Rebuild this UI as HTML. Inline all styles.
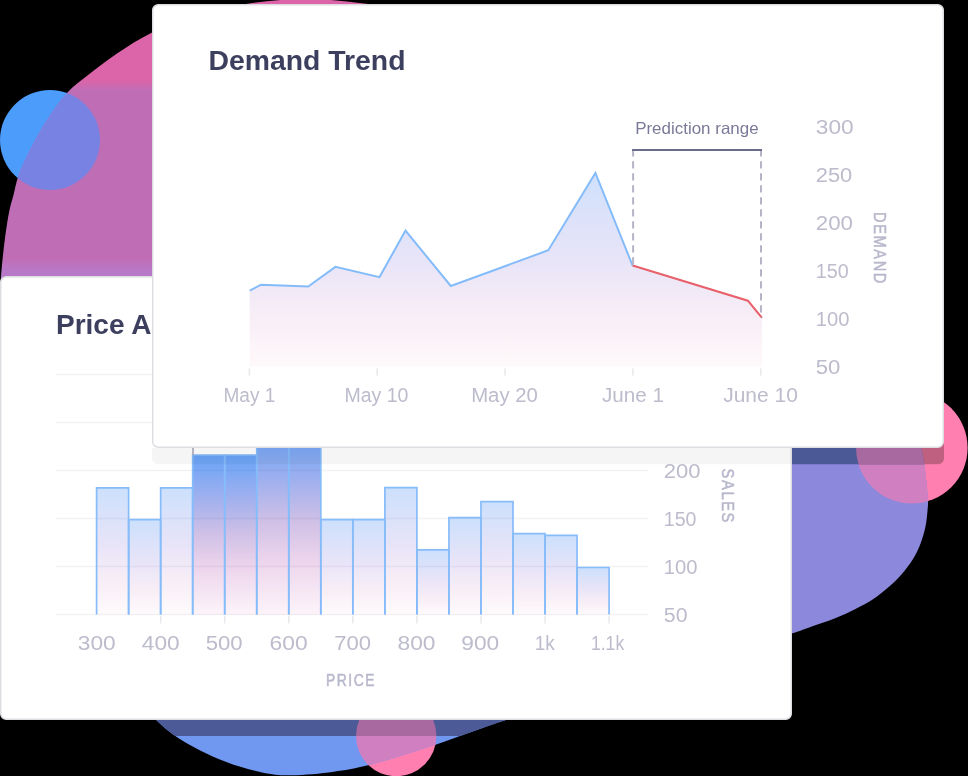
<!DOCTYPE html>
<html><head><meta charset="utf-8"><title>Demand Trend</title>
<style>
html,body{margin:0;padding:0;background:#000;width:968px;height:776px;overflow:hidden}
svg{display:block;will-change:transform}
text{font-family:"Liberation Sans", sans-serif}
</style></head><body>
<svg width="968" height="776" viewBox="0 0 968 776">
<defs>
 <linearGradient id="blobg" gradientUnits="userSpaceOnUse" x1="0" y1="0" x2="0" y2="776">
  <stop offset="0" stop-color="#dc64a8"/><stop offset="0.103" stop-color="#dc64a8"/>
  <stop offset="0.117" stop-color="#bf6eb6"/><stop offset="0.334" stop-color="#bf6eb6"/>
  <stop offset="0.349" stop-color="#b878c8"/><stop offset="0.50" stop-color="#a07ed0"/>
  <stop offset="0.58" stop-color="#8c88dc"/><stop offset="0.82" stop-color="#8c88dc"/>
  <stop offset="0.90" stop-color="#7098f0"/><stop offset="1" stop-color="#7098f0"/>
 </linearGradient>
 <clipPath id="blobclip"><path d="M-4.00,330.00 C-3.20,313.98 -1.01,301.36 0.00,290.00 C0.75,281.58 0.96,275.89 1.70,268.00 C2.56,258.77 3.67,247.81 5.00,238.00 C6.29,228.49 7.83,217.85 9.50,210.00 C10.74,204.19 12.11,200.30 13.50,195.00 C15.06,189.04 15.98,182.89 18.40,176.00 C21.49,167.23 26.72,156.35 31.50,147.00 C36.20,137.82 41.07,129.17 46.80,120.40 C52.83,111.16 59.53,100.97 67.00,93.00 C74.02,85.51 81.92,80.00 90.00,73.60 C98.54,66.83 107.27,60.02 117.00,53.50 C127.66,46.36 138.80,38.96 151.60,32.70 C166.11,25.60 183.62,18.89 200.00,14.00 C216.10,9.20 231.96,5.99 249.00,3.50 C267.20,0.84 286.92,-0.99 306.00,-1.00 C325.25,-1.01 342.83,0.90 364.00,3.50 C389.92,6.68 417.59,10.75 450.00,18.00 C493.31,27.69 550.42,39.46 600.00,60.00 C653.83,82.30 714.44,112.36 760.00,150.00 C803.88,186.25 844.16,236.25 870.00,280.00 C891.49,316.38 903.55,358.71 912.00,390.00 C917.99,412.21 919.34,435.03 921.60,448.50 C922.79,455.62 923.56,458.88 924.40,464.80 C925.40,471.84 926.34,481.53 927.00,488.00 C927.47,492.65 928.03,496.10 928.10,500.00 C928.17,503.69 927.86,506.84 927.50,510.80 C927.05,515.68 926.58,521.58 925.40,527.10 C924.14,533.00 922.22,539.51 920.00,545.10 C917.93,550.29 915.61,554.90 912.70,559.60 C909.63,564.55 905.81,569.49 901.90,574.00 C898.01,578.49 893.91,582.53 889.30,586.60 C884.34,590.98 878.73,595.53 873.00,599.30 C867.29,603.06 861.21,606.09 855.00,609.20 C848.59,612.40 842.07,615.41 835.10,618.20 C827.68,621.17 819.18,623.74 811.70,626.40 C804.79,628.86 801.50,630.33 791.80,633.60 C766.09,642.27 697.52,663.63 650.00,678.00 C602.26,692.44 545.38,707.37 506.00,720.00 C478.21,728.91 458.91,737.03 435.50,744.70 C412.58,752.21 385.87,760.98 367.00,765.60 C354.02,768.78 345.48,770.22 333.70,771.80 C320.58,773.57 304.14,775.28 291.80,775.30 C282.05,775.32 275.49,775.07 265.60,773.20 C252.07,770.65 233.57,765.21 218.50,759.00 C203.47,752.80 186.59,743.61 175.30,736.00 C167.14,730.50 163.62,727.10 155.70,719.60 C141.55,706.21 117.73,683.52 100.00,660.00 C78.80,631.88 56.74,597.23 40.00,560.00 C21.23,518.24 2.44,461.98 -4.00,420.00 C-9.04,387.13 -5.20,353.98 -4.00,330.00 Z"/></clipPath>
 <clipPath id="sh1"><rect x="152" y="20" width="792" height="444.3" rx="6"/></clipPath>
 <clipPath id="sh2"><rect x="0" y="292" width="792" height="444" rx="6"/></clipPath>
 <linearGradient id="areag" gradientUnits="userSpaceOnUse" x1="0" y1="172" x2="0" y2="367">
  <stop offset="0" stop-color="#cfe0fc"/><stop offset="0.45" stop-color="#e8e4f8"/><stop offset="0.75" stop-color="#f8eef6"/><stop offset="1" stop-color="#fef9fb"/>
 </linearGradient>
 <linearGradient id="barg" x1="0" y1="0" x2="0" y2="1">
  <stop offset="0" stop-color="#cce0fc"/><stop offset="0.45" stop-color="#e8e4f8"/><stop offset="0.75" stop-color="#f8eef6"/><stop offset="1" stop-color="#fefbfc"/>
 </linearGradient>
 <linearGradient id="barh" x1="0" y1="0" x2="0" y2="1">
  <stop offset="0" stop-color="#68a4f8"/><stop offset="0.27" stop-color="#a0b0ee"/><stop offset="0.49" stop-color="#cfc0e6"/><stop offset="0.7" stop-color="#ecd4ec"/><stop offset="1" stop-color="#fdf4f9"/>
 </linearGradient>
</defs>
<rect width="968" height="776" fill="#000"/>
<circle cx="50" cy="140" r="50" fill="#4c9cfc"/>
<circle cx="911.8" cy="447.8" r="55.8" fill="#ff80b0"/>
<circle cx="396.2" cy="736" r="40.2" fill="#ff80b0"/>
<path d="M-4.00,330.00 C-3.20,313.98 -1.01,301.36 0.00,290.00 C0.75,281.58 0.96,275.89 1.70,268.00 C2.56,258.77 3.67,247.81 5.00,238.00 C6.29,228.49 7.83,217.85 9.50,210.00 C10.74,204.19 12.11,200.30 13.50,195.00 C15.06,189.04 15.98,182.89 18.40,176.00 C21.49,167.23 26.72,156.35 31.50,147.00 C36.20,137.82 41.07,129.17 46.80,120.40 C52.83,111.16 59.53,100.97 67.00,93.00 C74.02,85.51 81.92,80.00 90.00,73.60 C98.54,66.83 107.27,60.02 117.00,53.50 C127.66,46.36 138.80,38.96 151.60,32.70 C166.11,25.60 183.62,18.89 200.00,14.00 C216.10,9.20 231.96,5.99 249.00,3.50 C267.20,0.84 286.92,-0.99 306.00,-1.00 C325.25,-1.01 342.83,0.90 364.00,3.50 C389.92,6.68 417.59,10.75 450.00,18.00 C493.31,27.69 550.42,39.46 600.00,60.00 C653.83,82.30 714.44,112.36 760.00,150.00 C803.88,186.25 844.16,236.25 870.00,280.00 C891.49,316.38 903.55,358.71 912.00,390.00 C917.99,412.21 919.34,435.03 921.60,448.50 C922.79,455.62 923.56,458.88 924.40,464.80 C925.40,471.84 926.34,481.53 927.00,488.00 C927.47,492.65 928.03,496.10 928.10,500.00 C928.17,503.69 927.86,506.84 927.50,510.80 C927.05,515.68 926.58,521.58 925.40,527.10 C924.14,533.00 922.22,539.51 920.00,545.10 C917.93,550.29 915.61,554.90 912.70,559.60 C909.63,564.55 905.81,569.49 901.90,574.00 C898.01,578.49 893.91,582.53 889.30,586.60 C884.34,590.98 878.73,595.53 873.00,599.30 C867.29,603.06 861.21,606.09 855.00,609.20 C848.59,612.40 842.07,615.41 835.10,618.20 C827.68,621.17 819.18,623.74 811.70,626.40 C804.79,628.86 801.50,630.33 791.80,633.60 C766.09,642.27 697.52,663.63 650.00,678.00 C602.26,692.44 545.38,707.37 506.00,720.00 C478.21,728.91 458.91,737.03 435.50,744.70 C412.58,752.21 385.87,760.98 367.00,765.60 C354.02,768.78 345.48,770.22 333.70,771.80 C320.58,773.57 304.14,775.28 291.80,775.30 C282.05,775.32 275.49,775.07 265.60,773.20 C252.07,770.65 233.57,765.21 218.50,759.00 C203.47,752.80 186.59,743.61 175.30,736.00 C167.14,730.50 163.62,727.10 155.70,719.60 C141.55,706.21 117.73,683.52 100.00,660.00 C78.80,631.88 56.74,597.23 40.00,560.00 C21.23,518.24 2.44,461.98 -4.00,420.00 C-9.04,387.13 -5.20,353.98 -4.00,330.00 Z" fill="url(#blobg)"/>
<g clip-path="url(#blobclip)">
 <circle cx="50" cy="140" r="50" fill="#7882e2"/>
 <circle cx="911.8" cy="447.8" r="55.8" fill="#d080c0"/>
 <circle cx="396.2" cy="736" r="40.2" fill="#d080c0"/>
</g>
<g clip-path="url(#sh1)">
 <circle cx="911.8" cy="447.8" r="55.8" fill="#c06080"/>
 <g clip-path="url(#blobclip)"><rect x="0" y="0" width="968" height="776" fill="#4b5996"/>
  <circle cx="911.8" cy="447.8" r="55.8" fill="#a868a0"/></g>
</g>
<g clip-path="url(#sh2)">
 <circle cx="396.2" cy="736" r="40.2" fill="#c06080"/>
 <g clip-path="url(#blobclip)"><rect x="0" y="0" width="968" height="776" fill="#4c5a98"/>
  <circle cx="396.2" cy="736" r="40.2" fill="#a868a0"/></g>
</g>

<rect x="0.75" y="276.75" width="790.5" height="442.5" rx="5.5" fill="#fff" stroke="#dedee2" stroke-width="1.5"/>
<text x="56" y="333.8" font-size="27.6" fill="#3c3f5e" font-weight="700" textLength="95.5" lengthAdjust="spacingAndGlyphs">Price A</text>
<rect x="96.60" y="487.8" width="32.03" height="126.8" fill="url(#barg)"/>
<rect x="128.63" y="519.7" width="32.03" height="94.9" fill="url(#barg)"/>
<rect x="160.66" y="487.8" width="32.03" height="126.8" fill="url(#barg)"/>
<rect x="192.69" y="455.0" width="32.03" height="159.6" fill="url(#barh)"/>
<rect x="224.72" y="455.0" width="32.03" height="159.6" fill="url(#barh)"/>
<rect x="256.75" y="431.0" width="32.03" height="183.6" fill="url(#barh)"/>
<rect x="288.78" y="431.0" width="32.03" height="183.6" fill="url(#barh)"/>
<rect x="320.81" y="519.7" width="32.03" height="94.9" fill="url(#barg)"/>
<rect x="352.84" y="519.7" width="32.03" height="94.9" fill="url(#barg)"/>
<rect x="384.87" y="487.7" width="32.03" height="126.9" fill="url(#barg)"/>
<rect x="416.90" y="549.8" width="32.03" height="64.8" fill="url(#barg)"/>
<rect x="448.93" y="517.7" width="32.03" height="96.9" fill="url(#barg)"/>
<rect x="480.96" y="501.6" width="32.03" height="113.0" fill="url(#barg)"/>
<rect x="512.99" y="533.7" width="32.03" height="80.9" fill="url(#barg)"/>
<rect x="545.02" y="535.4" width="32.03" height="79.2" fill="url(#barg)"/>
<rect x="577.05" y="567.5" width="32.03" height="47.1" fill="url(#barg)"/>
<line x1="56" y1="374.6" x2="648" y2="374.6" stroke="#202050" stroke-opacity="0.06" stroke-width="1.5"/>
<line x1="56" y1="422.6" x2="648" y2="422.6" stroke="#202050" stroke-opacity="0.06" stroke-width="1.5"/>
<line x1="56" y1="470.6" x2="648" y2="470.6" stroke="#202050" stroke-opacity="0.06" stroke-width="1.5"/>
<line x1="56" y1="518.6" x2="648" y2="518.6" stroke="#202050" stroke-opacity="0.06" stroke-width="1.5"/>
<line x1="56" y1="566.6" x2="648" y2="566.6" stroke="#202050" stroke-opacity="0.06" stroke-width="1.5"/>
<line x1="56" y1="614.6" x2="648" y2="614.6" stroke="#202050" stroke-opacity="0.06" stroke-width="1.5"/>
<path d="M96.60,614.6 V487.8 H128.63 V614.6" fill="none" stroke="#86bcfa" stroke-width="1.7"/>
<path d="M128.63,614.6 V519.7 H160.66 V614.6" fill="none" stroke="#86bcfa" stroke-width="1.7"/>
<path d="M160.66,614.6 V487.8 H192.69 V614.6" fill="none" stroke="#86bcfa" stroke-width="1.7"/>
<path d="M192.69,614.6 V455.0 H224.72 V614.6" fill="none" stroke="#86bcfa" stroke-width="1.7"/>
<path d="M224.72,614.6 V455.0 H256.75 V614.6" fill="none" stroke="#86bcfa" stroke-width="1.7"/>
<path d="M256.75,614.6 V431.0 H288.78 V614.6" fill="none" stroke="#86bcfa" stroke-width="1.7"/>
<path d="M288.78,614.6 V431.0 H320.81 V614.6" fill="none" stroke="#86bcfa" stroke-width="1.7"/>
<path d="M320.81,614.6 V519.7 H352.84 V614.6" fill="none" stroke="#86bcfa" stroke-width="1.7"/>
<path d="M352.84,614.6 V519.7 H384.87 V614.6" fill="none" stroke="#86bcfa" stroke-width="1.7"/>
<path d="M384.87,614.6 V487.7 H416.90 V614.6" fill="none" stroke="#86bcfa" stroke-width="1.7"/>
<path d="M416.90,614.6 V549.8 H448.93 V614.6" fill="none" stroke="#86bcfa" stroke-width="1.7"/>
<path d="M448.93,614.6 V517.7 H480.96 V614.6" fill="none" stroke="#86bcfa" stroke-width="1.7"/>
<path d="M480.96,614.6 V501.6 H512.99 V614.6" fill="none" stroke="#86bcfa" stroke-width="1.7"/>
<path d="M512.99,614.6 V533.7 H545.02 V614.6" fill="none" stroke="#86bcfa" stroke-width="1.7"/>
<path d="M545.02,614.6 V535.4 H577.05 V614.6" fill="none" stroke="#86bcfa" stroke-width="1.7"/>
<path d="M577.05,614.6 V567.5 H609.08 V614.6" fill="none" stroke="#86bcfa" stroke-width="1.7"/>
<path d="M152,448 H791 V464.3 H158 A6,6 0 0 1 152,458.3 Z" fill="#000" fill-opacity="0.04"/>
<line x1="160.7" y1="616" x2="160.7" y2="623.5" stroke="#e8e8ec" stroke-width="1.5"/>
<line x1="224.7" y1="616" x2="224.7" y2="623.5" stroke="#e8e8ec" stroke-width="1.5"/>
<line x1="288.8" y1="616" x2="288.8" y2="623.5" stroke="#e8e8ec" stroke-width="1.5"/>
<line x1="352.8" y1="616" x2="352.8" y2="623.5" stroke="#e8e8ec" stroke-width="1.5"/>
<line x1="416.9" y1="616" x2="416.9" y2="623.5" stroke="#e8e8ec" stroke-width="1.5"/>
<line x1="481.0" y1="616" x2="481.0" y2="623.5" stroke="#e8e8ec" stroke-width="1.5"/>
<line x1="545.0" y1="616" x2="545.0" y2="623.5" stroke="#e8e8ec" stroke-width="1.5"/>
<line x1="609.1" y1="616" x2="609.1" y2="623.5" stroke="#e8e8ec" stroke-width="1.5"/>
<text x="96.8" y="650" font-size="19.6" fill="#bcbccc" text-anchor="middle" textLength="37.9" lengthAdjust="spacingAndGlyphs">300</text>
<text x="160.7" y="650" font-size="19.6" fill="#bcbccc" text-anchor="middle" textLength="37.9" lengthAdjust="spacingAndGlyphs">400</text>
<text x="224.2" y="650" font-size="19.6" fill="#bcbccc" text-anchor="middle" textLength="37.0" lengthAdjust="spacingAndGlyphs">500</text>
<text x="288.6" y="650" font-size="19.6" fill="#bcbccc" text-anchor="middle" textLength="38.1" lengthAdjust="spacingAndGlyphs">600</text>
<text x="352.6" y="650" font-size="19.6" fill="#bcbccc" text-anchor="middle" textLength="36.9" lengthAdjust="spacingAndGlyphs">700</text>
<text x="416.5" y="650" font-size="19.6" fill="#bcbccc" text-anchor="middle" textLength="38.0" lengthAdjust="spacingAndGlyphs">800</text>
<text x="480.3" y="650" font-size="19.6" fill="#bcbccc" text-anchor="middle" textLength="38.0" lengthAdjust="spacingAndGlyphs">900</text>
<text x="544.8" y="650" font-size="19.6" fill="#bcbccc" text-anchor="middle" textLength="20.1" lengthAdjust="spacingAndGlyphs">1k</text>
<text x="607.6" y="650" font-size="19.6" fill="#bcbccc" text-anchor="middle" textLength="33.4" lengthAdjust="spacingAndGlyphs">1.1k</text>
<text x="663.8" y="478" font-size="19.6" fill="#bcbccc" textLength="36.8" lengthAdjust="spacingAndGlyphs">200</text>
<text x="663.8" y="526" font-size="19.6" fill="#bcbccc" textLength="32.7" lengthAdjust="spacingAndGlyphs">150</text>
<text x="663.8" y="574" font-size="19.6" fill="#bcbccc" textLength="33.8" lengthAdjust="spacingAndGlyphs">100</text>
<text x="663.8" y="622" font-size="19.6" fill="#bcbccc" textLength="23.7" lengthAdjust="spacingAndGlyphs">50</text>
<text x="351" y="685.8" font-size="16.2" fill="#b8b8cc" text-anchor="middle" textLength="50" lengthAdjust="spacingAndGlyphs" letter-spacing="1.8" stroke="#b8b8cc" stroke-width="0.55">PRICE</text>
<text x="0" y="0" font-size="16.2" fill="#b8b8cc" text-anchor="middle" textLength="55.5" lengthAdjust="spacingAndGlyphs" letter-spacing="1.8" stroke="#b8b8cc" stroke-width="0.55" transform="translate(722,496.3) rotate(90)">SALES</text>
<line x1="193" y1="440" x2="193" y2="455" stroke="#a8a8b8" stroke-width="1.7"/>
<rect x="152.75" y="4.75" width="790.5" height="442.5" rx="5.5" fill="#fff" stroke="#dedee2" stroke-width="1.5"/>
<text x="208.5" y="69.5" font-size="27.8" fill="#3c3f5e" font-weight="700" textLength="197" lengthAdjust="spacingAndGlyphs">Demand Trend</text>
<polygon points="249.7,290.7 261.0,284.7 308.2,286.6 335.4,266.9 379.5,277.1 405.5,230.6 450.8,286.0 548.3,250.3 595.4,172.9 632.6,265.6 747.9,300.7 762.0,317.9 762,366.5 249.7,366.5" fill="url(#areag)"/>
<polyline points="249.7,290.7 261.0,284.7 308.2,286.6 335.4,266.9 379.5,277.1 405.5,230.6 450.8,286.0 548.3,250.3 595.4,172.9 632.6,265.6" fill="none" stroke="#84bcfa" stroke-width="2"/>
<polyline points="632.6,265.6 747.9,300.7 762.0,317.9" fill="none" stroke="#e8606a" stroke-width="2.1"/>
<line x1="633.1" y1="149.2" x2="633.1" y2="266" stroke="#b4b4c6" stroke-width="2" stroke-dasharray="7.3 4.7"/>
<line x1="761" y1="149.2" x2="761" y2="318" stroke="#b4b4c6" stroke-width="2" stroke-dasharray="7.3 4.7"/>
<line x1="632.1" y1="150" x2="762" y2="150" stroke="#6c6c8a" stroke-width="2"/>
<text x="696.9" y="133.9" font-size="16.5" fill="#7a7a98" text-anchor="middle" textLength="123.5" lengthAdjust="spacingAndGlyphs">Prediction range</text>
<line x1="249.4" y1="368.3" x2="249.4" y2="375.5" stroke="#e8e8ec" stroke-width="1.5"/>
<line x1="377.2" y1="368.3" x2="377.2" y2="375.5" stroke="#e8e8ec" stroke-width="1.5"/>
<line x1="505.1" y1="368.3" x2="505.1" y2="375.5" stroke="#e8e8ec" stroke-width="1.5"/>
<line x1="632.9" y1="368.3" x2="632.9" y2="375.5" stroke="#e8e8ec" stroke-width="1.5"/>
<line x1="760.8" y1="368.3" x2="760.8" y2="375.5" stroke="#e8e8ec" stroke-width="1.5"/>
<text x="249.4" y="401.9" font-size="19.6" fill="#bcbccc" text-anchor="middle" textLength="51.8" lengthAdjust="spacingAndGlyphs">May 1</text>
<text x="376.4" y="401.9" font-size="19.6" fill="#bcbccc" text-anchor="middle" textLength="64.0" lengthAdjust="spacingAndGlyphs">May 10</text>
<text x="504.5" y="401.9" font-size="19.6" fill="#bcbccc" text-anchor="middle" textLength="66.7" lengthAdjust="spacingAndGlyphs">May 20</text>
<text x="633.0" y="401.9" font-size="19.6" fill="#bcbccc" text-anchor="middle" textLength="62.0" lengthAdjust="spacingAndGlyphs">June 1</text>
<text x="760.5" y="401.9" font-size="19.6" fill="#bcbccc" text-anchor="middle" textLength="74.7" lengthAdjust="spacingAndGlyphs">June 10</text>
<text x="815.8" y="133.8" font-size="19.6" fill="#bcbccc" textLength="37.9" lengthAdjust="spacingAndGlyphs">300</text>
<text x="815.8" y="181.8" font-size="19.6" fill="#bcbccc" textLength="36.5" lengthAdjust="spacingAndGlyphs">250</text>
<text x="815.8" y="229.8" font-size="19.6" fill="#bcbccc" textLength="37.2" lengthAdjust="spacingAndGlyphs">200</text>
<text x="815.8" y="277.8" font-size="19.6" fill="#bcbccc" textLength="33.0" lengthAdjust="spacingAndGlyphs">150</text>
<text x="815.8" y="325.8" font-size="19.6" fill="#bcbccc" textLength="33.7" lengthAdjust="spacingAndGlyphs">100</text>
<text x="815.8" y="373.8" font-size="19.6" fill="#bcbccc" textLength="24.6" lengthAdjust="spacingAndGlyphs">50</text>
<text x="0" y="0" font-size="16.2" fill="#b8b8cc" text-anchor="middle" textLength="73" lengthAdjust="spacingAndGlyphs" letter-spacing="1.8" stroke="#b8b8cc" stroke-width="0.55" transform="translate(874,248.5) rotate(90)">DEMAND</text>
</svg></body></html>
